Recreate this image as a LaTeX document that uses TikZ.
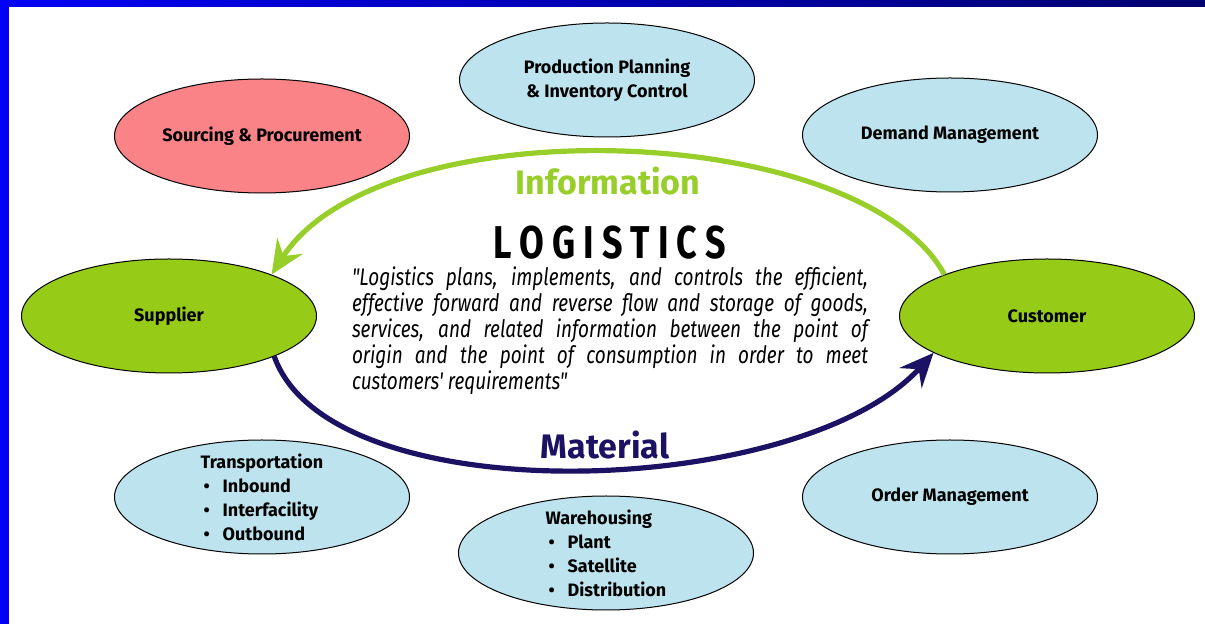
\documentclass[tikz,border=0pt]{standalone}
\usepackage{fontspec}
\setmainfont{Fira Sans}
\usetikzlibrary{shapes.geometric,arrows.meta}

\definecolor{pinkfill}{RGB}{249,131,135}
\definecolor{paleblue}{RGB}{189,228,238}
\definecolor{leafgreen}{RGB}{150,203,24}
\definecolor{infogreen}{RGB}{152,206,42}
\definecolor{navyflow}{RGB}{28,18,100}
\definecolor{framebl}{RGB}{0,0,245}
\definecolor{framedark}{RGB}{0,0,110}

\newcommand{\listbul}{\makebox[11pt][l]{\hspace{1.5pt}\textbullet}}
\newcommand{\quoteline}[1]{\makebox[258pt][s]{#1}}

\tikzset{
  bubble/.style={ellipse, draw=black, line width=0.5pt, fill=paleblue,
    minimum width=147.5pt, minimum height=57pt, inner sep=0pt},
  bubtext/.style={font=\bfseries\fontsize{9}{12}\selectfont, align=center, inner sep=0pt},
  listtext/.style={font=\bfseries\fontsize{9}{12}\selectfont, align=left, inner sep=0pt},
  flowlabel/.style={font=\bfseries\fontsize{17}{20}\selectfont, inner sep=0pt},
  flow/.style={line width=2.6pt, -{Stealth[length=17pt,width=15pt,inset=6pt]}}
}

\begin{document}
\begin{tikzpicture}[x=0.5pt,y=-0.5pt]
  \useasboundingbox (0,0) rectangle (1205,624);
  % frame
  \shade[left color=framebl, right color=framedark] (0,0) rectangle (1205,7);
  \fill[framebl] (0,0) rectangle (9,624);

  % outer bubbles
  \node[bubble, fill=pinkfill] (srcg) at (262,136) {};
  \node[bubtext] at (srcg) {Sourcing \& Procurement};
  \node[bubble] (prod) at (607,80) {};
  \node[bubtext] at (prod) {Production Planning\\\& Inventory Control};
  \node[bubble] (dmnd) at (950,135) {};
  \node[bubtext] at (dmnd) {Demand Management};
  \node[bubble] (trns) at (262,497) {};
  \node[listtext] at (trns) {Transportation\\\listbul Inbound\\\listbul Interfacility\\\listbul Outbound};
  \node[bubble] (whse) at (606,553) {};
  \node[listtext] at (whse) {Warehousing\\\listbul Plant\\\listbul Satellite\\\listbul Distribution};
  \node[bubble] (ordr) at (950,497) {};
  \node[bubtext] at (ordr) {Order Management};

  % supplier and customer
  \node[bubble, fill=leafgreen] (supp) at (169,316) {};
  \node[bubtext] at (supp) {Supplier};
  \node[bubble, fill=leafgreen] (cust) at (1047,316) {};
  \node[bubtext] at (cust) {Customer};

  % flows
  \draw[flow, infogreen] (cust.158) .. controls (860,120) and (380,105) .. (supp.22);
  \draw[flow, navyflow] (supp.-21) .. controls (330,515) and (800,500) .. (cust.198);
  \node[flowlabel, text=infogreen] (info) at (608,181) {Information};
  \node[flowlabel, text=navyflow] (matl) at (605,445) {Material};

  % centre text
  \node[font=\bfseries\fontsize{23}{26}\selectfont\addfontfeature{FakeStretch=0.78,LetterSpace=18}, inner sep=0pt] (logi) at (610,243) {LOGISTICS};
  \node[font=\itshape\fontsize{12}{11.75}\selectfont\addfontfeature{FakeStretch=0.79,Ligatures=TeXOff}, align=left, inner sep=0pt] (defn) at (610,331)
    {\quoteline{"Logistics plans, implements, and controls the efficient,}\\
     \quoteline{effective forward and reverse flow and storage of goods,}\\
     \quoteline{services, and related information between the point of}\\
     \quoteline{origin and the point of consumption in order to meet}\\
     customers' requirements"};
\end{tikzpicture}
\end{document}
